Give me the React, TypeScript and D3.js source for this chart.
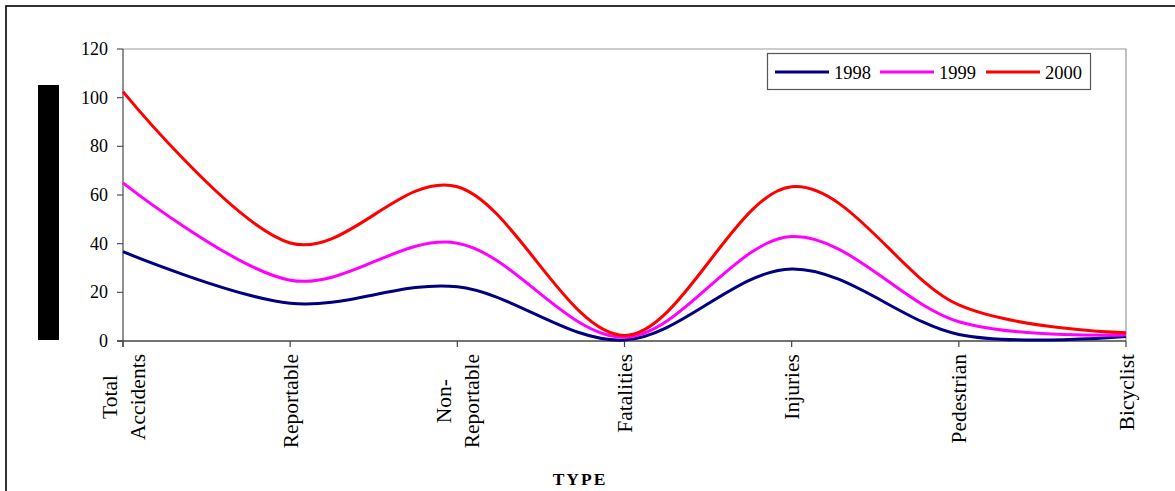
import React, { useEffect, useRef } from "react";
import * as d3 from "d3";

const categories: string[][] = [
  ["Total", "Accidents"],
  ["Reportable"],
  ["Non-", "Reportable"],
  ["Fatalities"],
  ["Injuries"],
  ["Pedestrian"],
  ["Bicyclist"],
];
const series1998 = [36.7, 15.5, 22.3, 0.4, 29.6, 2.7, 1.8];
const series1999 = [65, 25, 40.2, 1.5, 42.9, 7.9, 2.5];
const series2000 = [102.5, 40.3, 63.4, 2.3, 63.4, 14.8, 3.4];
const seriesNames = ["1998", "1999", "2000"];
const seriesColors = ["#000080", "#FF00FF", "#FF0000"];
const yTicks = [0, 20, 40, 60, 80, 100, 120];

const W = 1175;
const H = 491;
const PL = 123, PR = 1126, PT = 49, PB = 341;

export default function App() {
  const ref = useRef<SVGSVGElement | null>(null);

  useEffect(() => {
    const svg = d3.select(ref.current);
    svg.selectAll("*").remove();
    const font = "'Liberation Serif', 'Times New Roman', serif";

    const x = d3.scalePoint<number>().domain(d3.range(categories.length)).range([PL, PR]);
    const y = d3.scaleLinear().domain([0, 120]).range([PB, PT]);

    svg.append("rect").attr("width", W).attr("height", H).attr("fill", "#fff");
    // outer frame
    svg.append("rect").attr("x", 6).attr("y", 6).attr("width", 1300).attr("height", 700)
      .attr("fill", "none").attr("stroke", "#000").attr("stroke-width", 1.6);

    // plot frame (top & right light gray)
    svg.append("path").attr("d", `M${PL},${PT}H${PR}V${PB}`)
      .attr("fill", "none").attr("stroke", "#9a9a9a").attr("stroke-width", 1.2);

    // y axis
    const gy = svg.append("g");
    gy.append("line").attr("x1", PL).attr("x2", PL).attr("y1", PT).attr("y2", PB + 6)
      .attr("stroke", "#555").attr("stroke-width", 1.3);
    yTicks.forEach((t) => {
      gy.append("line").attr("x1", PL - 6).attr("x2", PL).attr("y1", y(t)).attr("y2", y(t))
        .attr("stroke", "#555").attr("stroke-width", 1.2);
      gy.append("text").attr("x", 108).attr("y", y(t) + 6).attr("text-anchor", "end")
        .attr("font-family", font).attr("font-size", 18).attr("fill", "#000").text(String(t));
    });

    // x axis
    const gx = svg.append("g");
    gx.append("line").attr("x1", PL - 6).attr("x2", PR).attr("y1", PB).attr("y2", PB)
      .attr("stroke", "#444").attr("stroke-width", 1.3);
    categories.forEach((lines, i) => {
      const cx = x(i)!;
      gx.append("line").attr("x1", cx).attr("x2", cx).attr("y1", PB).attr("y2", PB + 6)
        .attr("stroke", "#444").attr("stroke-width", 1.2);
      const fs = 21.5;
      const lh = 28;
      const texts = lines.map((ln) =>
        gx.append("text").attr("font-family", font).attr("font-size", fs).attr("fill", "#000").text(ln)
      );
      const widths = texts.map((t) => (t.node() as SVGTextElement).getComputedTextLength());
      const maxW = Math.max(...widths);
      const centerY = 354 + maxW / 2;
      const n = lines.length;
      texts.forEach((t, j) => {
        const base = cx + 7.5 + (j - (n - 1) / 2) * lh;
        t.attr("text-anchor", "middle")
          .attr("transform", `translate(${base},${centerY}) rotate(-90)`);
      });
    });

    // axis title
    svg.append("text").attr("x", 580).attr("y", 485).attr("text-anchor", "middle")
      .attr("font-family", font).attr("font-size", 17.5).attr("font-weight", "bold")
      .attr("letter-spacing", 2).attr("fill", "#000").text("TYPE");

    // y-axis title box (black)
    svg.append("rect").attr("x", 38).attr("y", 85).attr("width", 21).attr("height", 255).attr("fill", "#000");

    // lines
    const all = [series1998, series1999, series2000];
    const line = d3.line<number>().x((_, i) => x(i)!).y((d) => y(d)).curve(d3.curveCardinal.tension(0));
    all.forEach((s, k) => {
      svg.append("path").attr("d", line(s)!).attr("fill", "none")
        .attr("stroke", seriesColors[k]).attr("stroke-width", 3).attr("stroke-linejoin", "round");
    });

    // legend
    const lg = svg.append("g");
    lg.append("rect").attr("x", 767.5).attr("y", 53.5).attr("width", 323).attr("height", 36)
      .attr("fill", "#fff").attr("stroke", "#555").attr("stroke-width", 1.2);
    const lx = [775, 880, 986];
    seriesNames.forEach((nm, k) => {
      lg.append("line").attr("x1", lx[k]).attr("x2", lx[k] + 54).attr("y1", 72).attr("y2", 72)
        .attr("stroke", seriesColors[k]).attr("stroke-width", 3);
      lg.append("text").attr("x", lx[k] + 59).attr("y", 78.5).attr("font-family", font)
        .attr("font-size", 18.5).attr("fill", "#000").text(nm);
    });
  }, []);

  return (
    <svg ref={ref} width={W} height={H} style={{ position: "absolute", left: 0, top: 0, display: "block" }} />
  );
}
